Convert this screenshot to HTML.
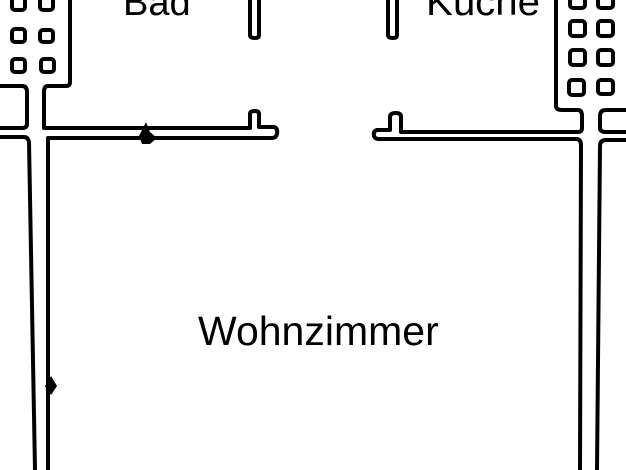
<!DOCTYPE html>
<html><head><style>
html,body{margin:0;padding:0;background:#fff;width:626px;height:470px;overflow:hidden}
svg{display:block}
</style></head><body>
<svg width="626" height="470" viewBox="0 0 626 470" xmlns="http://www.w3.org/2000/svg">
<g fill="none" stroke="#000" stroke-width="4" stroke-linejoin="round">
<path d="M70 0 V82 Q70 86 66 86 H48 Q44 86 44 92 V128 H250 V114 Q250 111 255 111 Q259 111 259 114 V127 H274 Q278 128 277 134 Q276 138 272 138 H48 V470"/>
<path d="M0 86 H22 Q27 86 27 92 V124 Q27 128 22 128 H0"/>
<path d="M0 137 H24 Q28 137 29 142 L35 470"/>
<rect x="12" y="-4" width="13" height="14" rx="3"/>
<rect x="40" y="-4" width="13" height="14" rx="3"/>
<rect x="12" y="29" width="13" height="13" rx="3"/>
<rect x="40" y="30" width="13" height="12" rx="3"/>
<rect x="12" y="59" width="13" height="13" rx="3"/>
<rect x="41" y="59" width="13" height="13" rx="3"/>
<path d="M250 0 V35 Q250 38 255 38 Q259 38 259 35 V0"/>
<path d="M388 0 V35 Q388 38 393 38 Q397 38 397 35 V0"/>
<path d="M556 0 V106 Q556 110 562 110 H578 Q582 110 582 116 V128 Q582 132 578 132 H401 V117 Q401 113 396 113 Q390 113 390 117 V130 H377 Q373 131 374 136 Q375 139 379 139 H576 Q581 139 581 145 L580 470"/>
<path d="M626 110 H606 Q600 110 600 116 V128 Q600 132 606 132 H626"/>
<path d="M626 140 H606 Q600 140 600 146 L597 470"/>
<rect x="570" y="-4" width="15" height="12" rx="3"/>
<rect x="598" y="-4" width="15" height="12" rx="3"/>
<rect x="570" y="21" width="15" height="15" rx="3"/>
<rect x="598" y="21" width="15" height="15" rx="3"/>
<rect x="570" y="50" width="15" height="15" rx="3"/>
<rect x="598" y="50" width="15" height="15" rx="3"/>
<rect x="569" y="80" width="15" height="15" rx="3"/>
<rect x="598" y="80" width="15" height="14" rx="3"/>
</g>
<path d="M146 122 L150 132 L157 138 L150 144 L142 144 L139 136 Z" fill="#000"/>
<path d="M51 376 L57 386 L51 395 L45 386 Z" fill="#000"/>
<g font-family="Liberation Sans, sans-serif" fill="#000">
<text x="123" y="15" font-size="38">Bad</text>
<text x="426" y="15" font-size="39" textLength="114" lengthAdjust="spacingAndGlyphs">Küche</text>
<text x="198" y="345" font-size="41">Wohnzimmer</text>
</g>
</svg>
</body></html>
